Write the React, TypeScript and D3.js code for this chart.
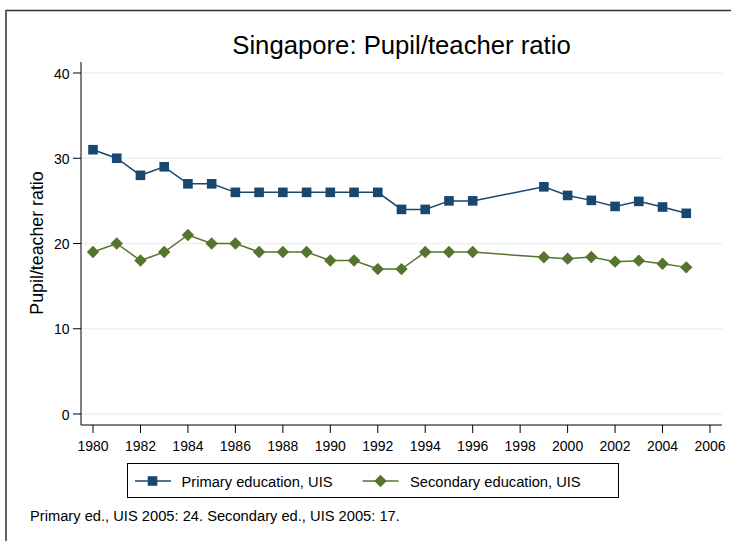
import * as React from "react"
import { scaleLinear, line } from "d3"

const years = [1980, 1981, 1982, 1983, 1984, 1985, 1986, 1987, 1988, 1989, 1990, 1991, 1992, 1993, 1994, 1995, 1996, 1999, 2000, 2001, 2002, 2003, 2004, 2005]
const primary = [31, 30, 28, 29, 27, 27, 26, 26, 26, 26, 26, 26, 26, 24, 24, 25, 25, 26.65, 25.64, 25.06, 24.35, 24.94, 24.28, 23.54]
const secondary = [19, 20, 18, 19, 21, 20, 20, 19, 19, 19, 18, 18, 17, 17, 19, 19, 19, 18.38, 18.22, 18.42, 17.87, 17.99, 17.63, 17.2]
const xTicks = [1980, 1982, 1984, 1986, 1988, 1990, 1992, 1994, 1996, 1998, 2000, 2002, 2004, 2006]
const yTicks = [0, 10, 20, 30, 40]

const title = "Singapore: Pupil/teacher ratio"
const yLabel = "Pupil/teacher ratio"
const seriesNames = ["Primary education, UIS", "Secondary education, UIS"]
const note = "Primary ed., UIS 2005: 24. Secondary ed., UIS 2005: 17."

const blue = "#1a476f"
const green = "#55752f"
const font = "Liberation Sans, Arial, sans-serif"

export default function App() {
  const width = 731
  const height = 541
  const plot = { left: 81, right: 722, top: 62, bottom: 425 }

  const x = scaleLinear().domain([1980, 2006]).range([93, 710])
  const y = scaleLinear().domain([0, 40]).range([414, 73])

  const mkLine = (vals: number[]) =>
    line<number>()
      .x((_, i) => x(years[i]))
      .y((d) => y(d))(vals) || ""

  const square = (cx: number, cy: number, key: string | number) => (
    <rect key={key} x={cx - 4.8} y={cy - 4.8} width={9.6} height={9.6} fill={blue} />
  )
  const diamond = (cx: number, cy: number, key: string | number) => (
    <path key={key} d={`M${cx},${cy - 6.2}L${cx + 6.2},${cy}L${cx},${cy + 6.2}L${cx - 6.2},${cy}Z`} fill={green} />
  )

  return (
    <svg width={width} height={height} style={{ position: "absolute", left: 0, top: 0 }} fontFamily={font}>
      <rect x={0} y={0} width={width} height={height} fill="#fff" />
      <rect x={6} y={10.5} width={900} height={700} fill="none" stroke="#333" strokeWidth={1.5} />

      <text x={(plot.left + plot.right) / 2} y={53.5} textAnchor="middle" fontSize={25.7}>
        {title}
      </text>

      {/* grid */}
      {yTicks.map((t) => (
        <line key={t} x1={plot.left} x2={plot.right} y1={y(t)} y2={y(t)} stroke="#eaf2f3" strokeWidth={1.5} />
      ))}

      {/* axes */}
      <line x1={plot.left} x2={plot.left} y1={plot.top} y2={plot.bottom} stroke="#000" strokeWidth={1} />
      <line x1={plot.left} x2={plot.right} y1={plot.bottom} y2={plot.bottom} stroke="#000" strokeWidth={1} />
      {yTicks.map((t) => (
        <g key={t}>
          <line x1={plot.left - 8} x2={plot.left} y1={y(t)} y2={y(t)} stroke="#000" />
          <text x={plot.left - 11.5} y={y(t) + 5.5} textAnchor="end" fontSize={14}>
            {t}
          </text>
        </g>
      ))}
      {xTicks.map((t) => (
        <g key={t}>
          <line x1={x(t)} x2={x(t)} y1={plot.bottom} y2={plot.bottom + 8} stroke="#000" />
          <text x={x(t)} y={plot.bottom + 25.5} textAnchor="middle" fontSize={14}>
            {t}
          </text>
        </g>
      ))}
      <text transform={`translate(42.5,243) rotate(-90)`} textAnchor="middle" fontSize={17.8}>
        {yLabel}
      </text>

      {/* series */}
      <path d={mkLine(primary)} fill="none" stroke={blue} strokeWidth={1.5} />
      {primary.map((v, i) => square(x(years[i]), y(v), i))}
      <path d={mkLine(secondary)} fill="none" stroke={green} strokeWidth={1.5} />
      {secondary.map((v, i) => diamond(x(years[i]), y(v), i))}

      {/* legend */}
      <rect x={127.5} y={463.5} width={491} height={34} fill="#fff" stroke="#000" strokeWidth={1} />
      <line x1={135} x2={171} y1={481} y2={481} stroke={blue} strokeWidth={1.5} />
      {square(152.5, 481, "ls")}
      <text x={181.5} y={486.5} fontSize={14.7}>{seriesNames[0]}</text>
      <line x1={362.5} x2={398.5} y1={481} y2={481} stroke={green} strokeWidth={1.5} />
      {diamond(380.5, 481, "ld")}
      <text x={410} y={486.5} fontSize={14.7}>{seriesNames[1]}</text>

      <text x={30} y={521} fontSize={14.7}>{note}</text>
    </svg>
  )
}
